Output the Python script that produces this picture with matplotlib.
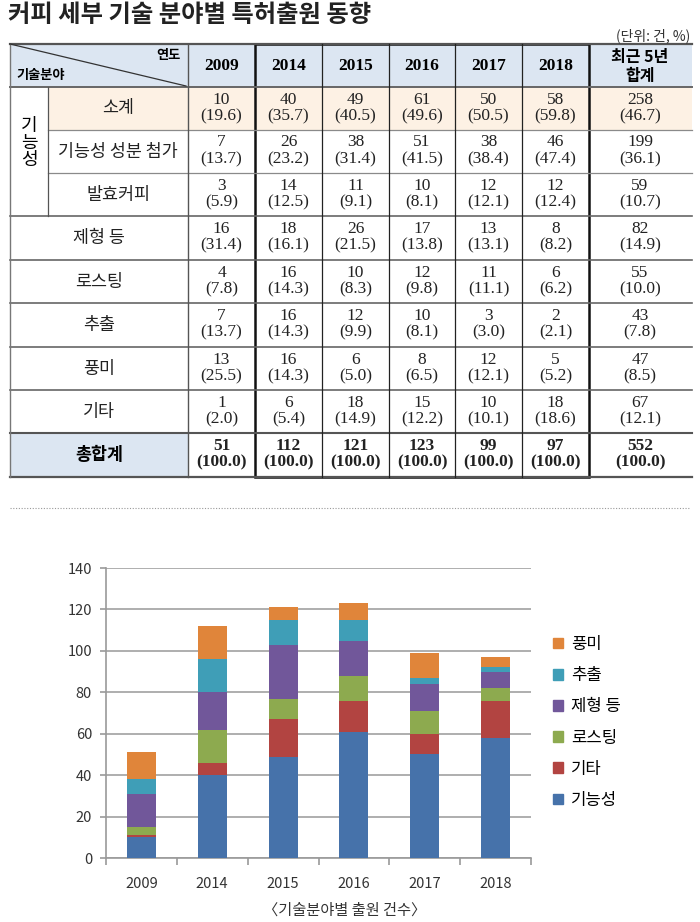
import numpy as np
import matplotlib
matplotlib.use("Agg")
import matplotlib.pyplot as plt
from matplotlib.patches import Rectangle, Patch

KR = ['Noto Sans CJK KR', 'DejaVu Sans']
NUM = ['Liberation Serif', 'Noto Sans CJK KR']
plt.rcParams['font.family'] = KR

# data
years = ['2009', '2014', '2015', '2016', '2017', '2018']
functional = [10, 40, 49, 61, 50, 58]       # 기능성 소계
func_ingredient = [7, 26, 38, 51, 38, 46]   # 기능성 성분 첨가
fermented = [3, 14, 11, 10, 12, 12]         # 발효커피
formulation = [16, 18, 26, 17, 13, 8]       # 제형 등
roasting = [4, 16, 10, 12, 11, 6]           # 로스팅
extraction = [7, 16, 12, 10, 3, 2]          # 추출
flavor = [13, 16, 6, 8, 12, 5]              # 풍미
other = [1, 6, 18, 15, 10, 18]              # 기타

row_labels = ['소계', '기능성 성분 첨가', '발효커피', '제형 등', '로스팅', '추출', '풍미', '기타']
row_data = [functional, func_ingredient, fermented, formulation, roasting,
            extraction, flavor, other]
totals = np.sum([functional, formulation, roasting, extraction, flavor, other], axis=0)

# chart series (bottom -> top)
series_names = ['기능성', '기타', '로스팅', '제형 등', '추출', '풍미']
series_vals = [functional, other, roasting, formulation, extraction, flavor]
series_cols = ['#4672AA', '#B24441', '#8DAA4F', '#71579A', '#3F9EB7', '#E0853A']

fig = plt.figure(figsize=(7, 9.22), dpi=100)
ax0 = fig.add_axes([0, 0, 1, 1])
ax0.set_xlim(0, 700)
ax0.set_ylim(922, 0)
ax0.axis('off')

# title
ax0.text(8, 15, '커피 세부 기술 분야별 특허출원 동향', fontsize=17.5, fontweight='bold',
         va='center', ha='left', color='#222222')
ax0.text(690, 36, '(단위: 건, %)', fontsize=10, ha='right', va='center', color='#333333')

# table layout
col_x = [10, 48, 188, 255, 322, 389, 455, 522, 589, 692]
row_y = [44, 87, 130, 173, 216, 260, 303, 347, 390, 433, 477]

ax0.add_patch(Rectangle((10, 44), 682, 43, color='#DCE6F2', lw=0))
ax0.add_patch(Rectangle((48, 87), 644, 43, color='#FDF1E4', lw=0))
ax0.add_patch(Rectangle((10, 433), 178, 44, color='#DCE6F2', lw=0))

# horizontal lines
ax0.plot([10, 692], [44, 44], color='#555555', lw=1.6)
ax0.plot([10, 692], [87, 87], color='#666666', lw=1.4)
for y in [130, 173]:
    ax0.plot([48, 692], [y, y], color='#8a8a8a', lw=0.9)
for y in [216, 260, 303, 347, 390]:
    ax0.plot([10, 692], [y, y], color='#666666', lw=1.2)
ax0.plot([10, 692], [433, 433], color='#555555', lw=1.5)
ax0.plot([10, 692], [477, 477], color='#555555', lw=1.6)

# vertical lines
ax0.plot([10, 10], [44, 477], color='#777777', lw=1.0)
ax0.plot([48, 48], [87, 216], color='#555555', lw=0.9)
ax0.plot([188, 188], [44, 477], color='#555555', lw=1.0)
for x in col_x[4:8]:
    ax0.plot([x, x], [44, 477], color='#222222', lw=0.9)
ax0.add_patch(Rectangle((255, 44), 334, 433, fill=False, ec='#111111', lw=1.8))

# header
ax0.plot([10, 186], [44, 86], color='#333333', lw=0.9)
ax0.text(168, 55, '연도', fontsize=9.5, fontweight='bold', ha='center', va='center')
ax0.text(16, 75, '기술분야', fontsize=9.5, fontweight='bold', ha='left', va='center')
for i, yr in enumerate(years):
    cx = (col_x[2 + i] + col_x[3 + i]) / 2
    ax0.text(cx, 66, yr, family=NUM, fontsize=12.5, fontweight='bold', ha='center', va='center')
ax0.text(640, 57, '최근 5년', fontsize=11.5, fontweight='bold', ha='center', va='center')
ax0.text(640, 76, '합계', fontsize=11.5, fontweight='bold', ha='center', va='center')

# group label
ax0.text(29, 143, '기\n능\n성', fontsize=13, ha='center', va='center', linespacing=0.95)

def cell_pair(cx, top, val, total, bold=False):
    w = 'bold' if bold else 'normal'
    ax0.text(cx, top + 12.5, str(val), family=NUM, fontsize=12.5, fontweight=w,
             ha='center', va='center', color='#222222')
    ax0.text(cx, top + 29, '(%.1f)' % (100.0 * val / total), family=NUM, fontsize=12.5,
             fontweight=w, ha='center', va='center', color='#222222')

totals5 = int(np.sum(totals[1:]))
for r, (lab, vals) in enumerate(zip(row_labels, row_data)):
    top = row_y[1 + r]
    lx = 118 if r < 3 else 99
    ax0.text(lx, top + 21.5, lab, fontsize=12.5, ha='center', va='center', color='#222222')
    for i, v in enumerate(vals):
        cx = (col_x[2 + i] + col_x[3 + i]) / 2
        cell_pair(cx, top, v, totals[i])
    cell_pair(640, top, int(np.sum(vals[1:])), totals5)

top = row_y[9]
ax0.text(99, top + 21.5, '총합계', fontsize=12.5, fontweight='bold', ha='center', va='center')
for i, v in enumerate(totals):
    cx = (col_x[2 + i] + col_x[3 + i]) / 2
    cell_pair(cx, top, int(v), int(v), bold=True)
cell_pair(640, top, totals5, totals5, bold=True)

# dotted separator
ax0.plot([10, 690], [508, 508], color='#999999', lw=0.8, ls=(0, (1, 1.5)))

# bar chart
ax = fig.add_axes([106 / 700, 64 / 922, 425 / 700, 290 / 922])
ax.set_facecolor('none')
x = np.arange(len(years))
bottom = np.zeros(len(years))
for name, vals, col in zip(series_names, series_vals, series_cols):
    ax.bar(x, vals, width=0.41, bottom=bottom, color=col, label=name, zorder=3)
    bottom += np.array(vals)

ax.set_xlim(-0.5, len(years) - 0.5)
ax.set_ylim(0, 140)
ax.set_yticks(np.arange(0, 141, 20))
ax.yaxis.grid(True, color='#A8A8A8', lw=1.3, zorder=0)
ax.set_axisbelow(True)
for s in ['top', 'right']:
    ax.spines[s].set_visible(False)
ax.spines['left'].set_color('#9a9a9a')
ax.spines['bottom'].set_color('#9a9a9a')
ax.spines['left'].set_linewidth(1.2)
ax.spines['bottom'].set_linewidth(1.2)
ax.set_xticks(x)
ax.set_xticklabels(years)
ax.set_xticks(np.arange(-0.5, len(years), 1), minor=True)
ax.tick_params(axis='x', which='major', length=0, pad=14, labelsize=10.5, labelcolor='#333333')
ax.tick_params(axis='x', which='minor', length=5, color='#9a9a9a', width=1.2)
ax.tick_params(axis='y', length=4, color='#9a9a9a', width=1.2, labelsize=10.5,
               labelcolor='#333333', pad=6)

handles = [Patch(color=c) for c in series_cols][::-1]
labels = series_names[::-1]
fig.legend(handles, labels, loc='upper left', bbox_to_anchor=(553 / 700, 1 - 636 / 922),
           frameon=False, fontsize=12, handlelength=0.6, handleheight=0.6,
           handletextpad=0.5, labelspacing=0.85, borderpad=0, borderaxespad=0)

ax0.text(345, 910, '〈기술분야별 출원 건수〉', fontsize=11, ha='center', va='center', color='#333333')

fig.savefig('out.png', dpi=100)
